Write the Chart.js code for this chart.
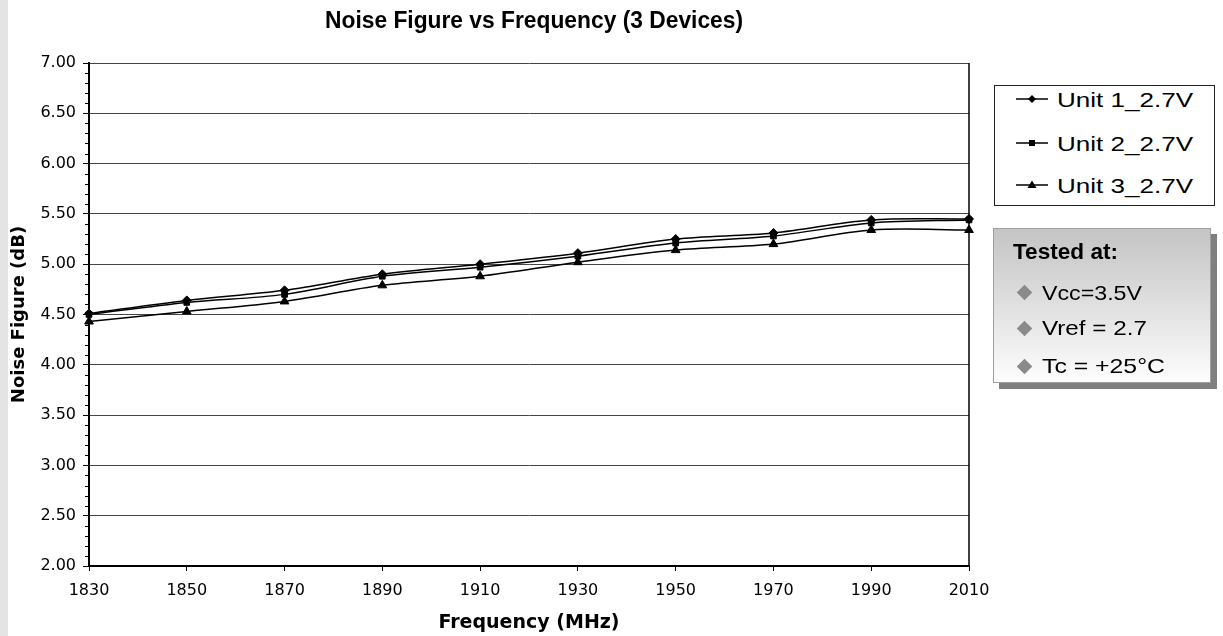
<!DOCTYPE html>
<html>
<head>
<meta charset="utf-8">
<script src="https://cdn.jsdelivr.net/npm/chart.js@4.4.1/dist/chart.umd.min.js"></script>
<style>
html,body{margin:0;padding:0;background:#fff;}
#wrap{position:relative;width:1223px;height:636px;overflow:hidden;background:#fff;}
#strip{position:absolute;left:0;top:0;width:8px;height:636px;background:#e4e4e4;}
#c{position:absolute;left:0;top:0;}
#legend{position:absolute;left:994px;top:85px;width:221px;height:121px;border:1px solid #222;box-sizing:border-box;background:#fff;}
#tested{position:absolute;left:993px;top:228px;width:218px;height:155px;border:1px solid #a0a0a0;box-sizing:border-box;
  background:linear-gradient(to bottom,#c4c4c4 0%,#e0e0e0 50%,#fdfdfd 100%);box-shadow:6px 6px 0 #7f7f7f;}
.t{position:absolute;white-space:nowrap;line-height:1;transform-origin:0 50%;color:#000;}
.leg{font-family:"Liberation Sans",Arial,sans-serif;font-size:21px;}
.nar{font-family:"Liberation Sans Narrow","Arial Narrow","Liberation Sans",sans-serif;font-size:21px;}
.narb{font-family:"Liberation Sans Narrow","Arial Narrow","Liberation Sans",sans-serif;font-size:22px;font-weight:bold;}
.dia{position:absolute;width:11px;height:11px;background:#8a8a8a;transform:rotate(45deg);}
svg.sw{position:absolute;overflow:visible;}
</style>
</head>
<body>
<div id="wrap">
  <div id="strip"></div>
  <canvas id="c" width="1223" height="636"></canvas>
  <div id="legend"></div>
  <div id="tested"></div>
</div>
<script>
// ---- data ----
const frequencies = [1830, 1850, 1870, 1890, 1910, 1930, 1950, 1970, 1990, 2010];
const unit1 = [4.51, 4.64, 4.74, 4.90, 5.00, 5.11, 5.25, 5.31, 5.44, 5.45];
const unit2 = [4.50, 4.62, 4.70, 4.88, 4.97, 5.08, 5.21, 5.28, 5.41, 5.44];
const unit3 = [4.43, 4.53, 4.63, 4.79, 4.88, 5.02, 5.14, 5.20, 5.34, 5.34];
const seriesNames = ["Unit 1_2.7V", "Unit 2_2.7V", "Unit 3_2.7V"];
const pointStyles = ["rectRot", "rect", "triangle"];
const yMin = 2.0, yMax = 7.0, yStep = 0.5, yMinorStep = 0.1;
const xMin = 1830, xMax = 2010, xStep = 20;
const chartTitle = "Noise Figure vs Frequency (3 Devices)";
const xTitle = "Frequency (MHz)";
const yTitle = "Noise Figure (dB)";
const testedTitle = "Tested at:";
const testedItems = ["Vcc=3.5V", "Vref = 2.7", "Tc = +25\u00B0C"];

const seriesValues = [unit1, unit2, unit3];
const pointRadii = [4.5, 4, 5];

const datasets = seriesValues.map((vals, i) => ({
  label: seriesNames[i],
  data: frequencies.map((f, j) => ({x: f, y: vals[j]})),
  borderColor: '#000',
  backgroundColor: '#000',
  borderWidth: 1.5,
  pointStyle: pointStyles[i],
  pointRadius: pointRadii[i],
  pointBorderWidth: 1,
  pointBackgroundColor: '#000',
  pointBorderColor: '#000',
  tension: 0.33,
  clip: false
}));

const minorTicks = {
  id: 'minorTicks',
  afterDraw(chart) {
    const ys = chart.scales.y, ctx = chart.ctx;
    const n = Math.round((yMax - yMin) / yMinorStep);
    const per = Math.round(yStep / yMinorStep);
    ctx.save();
    ctx.strokeStyle = '#000';
    ctx.lineWidth = 1;
    for (let i = 0; i <= n; i++) {
      if (i % per === 0) continue;
      const py = Math.round(ys.getPixelForValue(yMin + i * yMinorStep)) + 0.5;
      ctx.beginPath();
      ctx.moveTo(chart.chartArea.left - 4, py);
      ctx.lineTo(chart.chartArea.left, py);
      ctx.stroke();
    }
    const ca = chart.chartArea;
    ctx.lineWidth = 1.5;
    ctx.beginPath();
    ctx.moveTo(ca.right, ca.top);
    ctx.lineTo(ca.right, ca.bottom);
    ctx.stroke();
    ctx.restore();
  }
};

const titlePlugin = {
  id: 'titleNarrow',
  afterDraw(chart) {
    const ctx = chart.ctx;
    ctx.save();
    ctx.font = 'bold 23px "Liberation Sans Narrow", "Arial Narrow", "Liberation Sans", sans-serif';
    ctx.fillStyle = '#000';
    ctx.textBaseline = 'alphabetic';
    const w = ctx.measureText(chartTitle).width;
    const target = 418;
    const sx = target / w;
    ctx.translate(534 - target / 2, 28);
    ctx.scale(sx, 1);
    ctx.textAlign = 'left';
    ctx.fillText(chartTitle, 0, 0);
    ctx.restore();
  }
};

new Chart(document.getElementById('c'), {
  type: 'line',
  data: {datasets},
  options: {
    responsive: false,
    devicePixelRatio: 1,
    animation: false,
    layout: {padding: {top: 63, right: 254, bottom: 0, left: 0}},
    plugins: {legend: {display: false}, title: {display: false}, tooltip: {enabled: false}},
    scales: {
      x: {
        type: 'linear', min: xMin, max: xMax,
        afterFit(s) { s.height = 70; },
        ticks: {stepSize: xStep, color: '#000', padding: 10,
          font: {family: '"DejaVu Sans", sans-serif', size: 16},
          callback: v => String(v)},
        grid: {drawOnChartArea: false, drawTicks: true, tickLength: 5, tickColor: '#000'},
        border: {color: '#000', width: 2},
        title: {display: true, text: xTitle, color: '#000',
          font: {family: '"DejaVu Sans", sans-serif', size: 19, weight: 'bold'},
          padding: {top: 0, bottom: 2}}
      },
      y: {
        type: 'linear', min: yMin, max: yMax,
        afterFit(s) { s.width = 89; },
        ticks: {stepSize: yStep, color: '#000', padding: 7,
          font: {family: '"DejaVu Sans", sans-serif', size: 16},
          callback: v => Number(v).toFixed(2)},
        grid: {color: '#444', lineWidth: 1, drawTicks: true, tickLength: 6, tickColor: '#000'},
        border: {color: '#000', width: 2},
        title: {display: true, text: yTitle, color: '#000',
          font: {family: '"DejaVu Sans", sans-serif', size: 18, weight: 'bold'},
          padding: {top: 9, bottom: 0}}
      }
    }
  },
  plugins: [minorTicks, titlePlugin]
});

// ---- HTML legend & info box ----
const wrap = document.getElementById('wrap');
function addText(txt, cls, left, capCenter, size, targetW) {
  const d = document.createElement('div');
  d.className = 't ' + cls;
  d.textContent = txt;
  d.style.left = left + 'px';
  d.style.top = (capCenter - size / 2) + 'px';
  wrap.appendChild(d);
  const w = d.getBoundingClientRect().width;
  if (targetW && w > 0) d.style.transform = 'scaleX(' + (targetW / w) + ')';
  return d;
}
const legendRows = [99, 143, 185];
const svgNS = 'http://www.w3.org/2000/svg';
seriesNames.forEach((name, i) => {
  const cy = legendRows[i];
  const svg = document.createElementNS(svgNS, 'svg');
  svg.setAttribute('class', 'sw');
  svg.setAttribute('width', '34');
  svg.setAttribute('height', '14');
  svg.style.left = '1015px';
  svg.style.top = (cy - 7) + 'px';
  const ln = document.createElementNS(svgNS, 'line');
  ln.setAttribute('x1', '1'); ln.setAttribute('x2', '33');
  ln.setAttribute('y1', '7'); ln.setAttribute('y2', '7');
  ln.setAttribute('stroke', '#000'); ln.setAttribute('stroke-width', '1.5');
  svg.appendChild(ln);
  let m;
  if (pointStyles[i] === 'rectRot') {
    m = document.createElementNS(svgNS, 'polygon');
    m.setAttribute('points', '17,3 21,7 17,11 13,7');
  } else if (pointStyles[i] === 'rect') {
    m = document.createElementNS(svgNS, 'rect');
    m.setAttribute('x', '14'); m.setAttribute('y', '4');
    m.setAttribute('width', '6'); m.setAttribute('height', '6');
  } else {
    m = document.createElementNS(svgNS, 'polygon');
    m.setAttribute('points', '17,2.5 21.5,10 12.5,10');
  }
  m.setAttribute('fill', '#000');
  svg.appendChild(m);
  wrap.appendChild(svg);
  addText(name, 'leg', 1057, cy, 21, 136);
});

addText(testedTitle, 'narb', 1013, 252, 23, 105);
const testedRows = [292.5, 328, 366];
const testedWidths = [100, 105, 123];
testedItems.forEach((txt, i) => {
  const dia = document.createElement('div');
  dia.className = 'dia';
  dia.style.left = (1024 - 5.5) + 'px';
  dia.style.top = (testedRows[i] - 5.5) + 'px';
  wrap.appendChild(dia);
  addText(txt, 'nar', 1042, testedRows[i], 22, testedWidths[i]);
});
</script>
</body>
</html>
